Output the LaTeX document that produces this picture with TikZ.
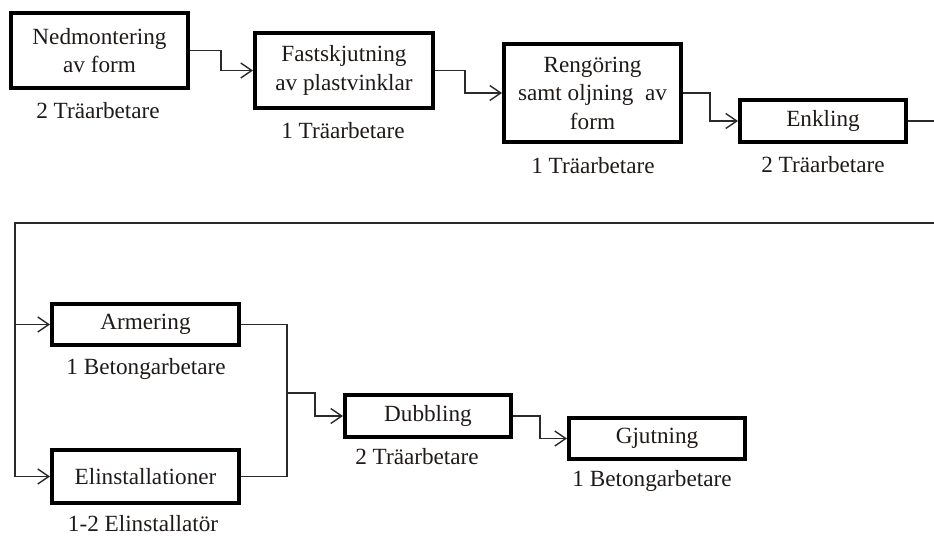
\documentclass[tikz,border=0pt]{standalone}
\usepackage{fontspec}
\IfFontExistsTF{LiberationSerif-Regular.ttf}{%
  \setmainfont{LiberationSerif}[Extension=.ttf,UprightFont=*-Regular,BoldFont=*-Bold,ItalicFont=*-Italic,BoldItalicFont=*-BoldItalic]%
  \newcommand\mysize{\fontsize{23.2}{28.5}\selectfont}}{%
  \setmainfont{Latin Modern Roman}%
  \newcommand\mysize{\fontsize{22}{28.5}\selectfont}}
\usetikzlibrary{arrows.meta}
\definecolor{txt}{HTML}{1E1A18}
\definecolor{ln}{HTML}{2A2A2A}
\tikzset{
  stepbox/.style={draw=black, line width=4pt, inner sep=0pt, align=center,
    text=txt, font=\mysize},
  lab/.style={inner sep=0pt, text=txt, font=\mysize},
  conn/.style={draw=ln, line width=1.4pt},
  arr/.style={conn, -{Straight Barb[length=11pt,width=15pt,line width=1.4pt]}},
}
\begin{document}
\begin{tikzpicture}[x=1pt,y=-1pt]
\useasboundingbox (0,0) rectangle (934,536);
% boxes
\node[stepbox, minimum width=177pt, minimum height=75pt] (nedm) at (99.5,50.5) {Nedmontering\\av form};
\node[stepbox, minimum width=178pt, minimum height=75pt] (fast) at (344,70.5) {Fastskjutning\\av plastvinklar};
\node[stepbox, minimum width=177pt, minimum height=98pt] (reng) at (592.5,93) {Rengöring\\samt oljning\ \ av\\form};
\node[stepbox, minimum width=166pt, minimum height=42pt] (enkl) at (823,121) {Enkling};
\node[stepbox, minimum width=187pt, minimum height=41pt] (arm) at (145.5,324.5) {Armering};
\node[stepbox, minimum width=187pt, minimum height=53pt] (elin) at (145.5,476.5) {Elinstallationer};
\node[stepbox, minimum width=166pt, minimum height=42pt] (dubb) at (428,416) {Dubbling};
\node[stepbox, minimum width=176pt, minimum height=41pt] (gjut) at (657,438.5) {Gjutning};
% labels
\node[lab] (l1) at (98,111) {2 Träarbetare};
\node[lab] (l2) at (343,131) {1 Träarbetare};
\node[lab] (l3) at (593,166) {1 Träarbetare};
\node[lab] (l4) at (823,165) {2 Träarbetare};
\node[lab] (l5) at (146,369) {1 Betongarbetare};
\node[lab] (l6) at (143,524) {1-2 Elinstallatör};
\node[lab] (l7) at (417,457) {2 Träarbetare};
\node[lab] (l8) at (652,481) {1 Betongarbetare};
% coordinates
\coordinate (e1) at (934,121);
\coordinate (e2) at (934,223);
\coordinate (lt) at (15,223);
\coordinate (j) at (287,393);
% connectors
\draw[arr] (nedm.east) -- ++(31,0) |- (fast.west);
\draw[arr] (fast.east) -- ++(30,0) |- (reng.west);
\draw[arr] (reng.east) -- ++(27,0) |- (enkl.west);
\draw[conn] (enkl.east) -- (e1);
\draw[conn] (e2) -- (lt) -- (lt |- elin.west);
\draw[arr] (lt |- arm.west) -- (arm.west);
\draw[arr] (lt |- elin.west) -- (elin.west);
\draw[conn] (arm.east) -| (j);
\draw[conn] (elin.east) -| (j);
\draw[arr] (j) -- ++(28,0) |- (dubb.west);
\draw[arr] (dubb.east) -- ++(27,0) |- (gjut.west);
\end{tikzpicture}
\end{document}
